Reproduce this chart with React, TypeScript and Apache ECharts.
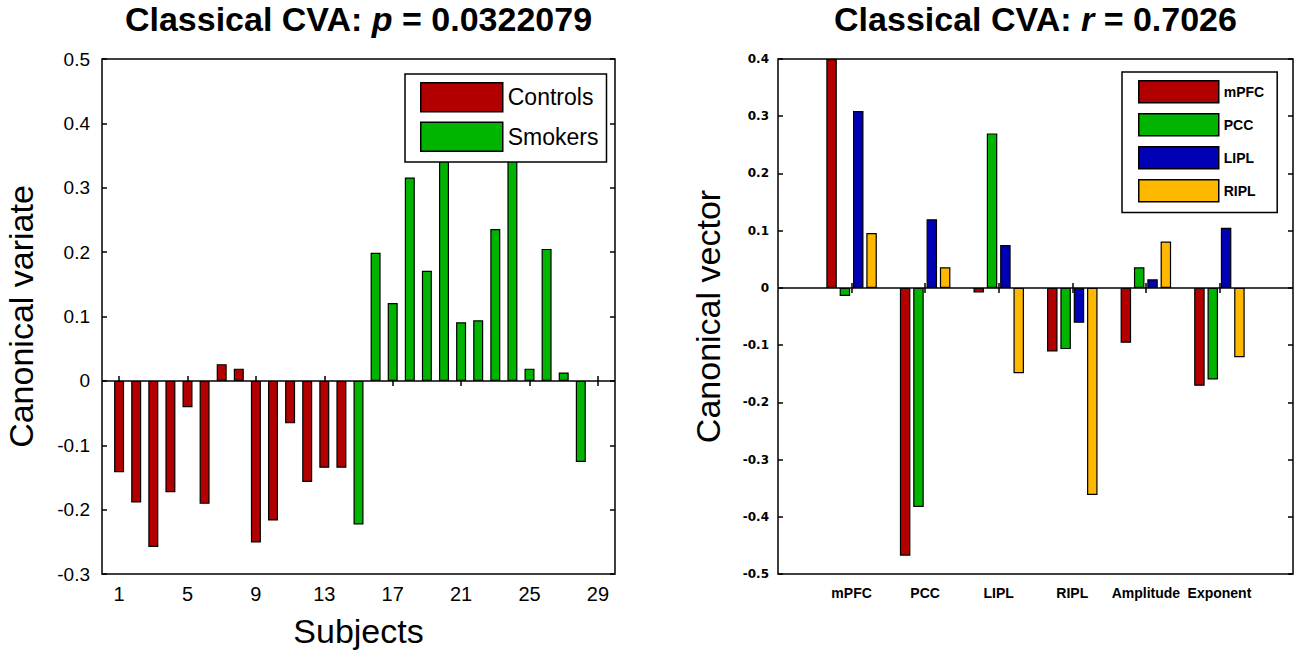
import React, { useEffect, useRef } from "react";
import * as echarts from "echarts";

// ---------- data ----------
const subjectAxis = ["0","1","2","3","4","5","6","7","8","9","10","11","12","13","14","15","16","17","18","19","20","21","22","23","24","25","26","27","28","29","30"];
const subjectTickLabels = [1, 5, 9, 13, 17, 21, 25, 29];
const controlSubjects = [1, 2, 3, 4, 5, 6, 7, 8, 9, 10, 11, 12, 13, 14];
const controls = [-0.142, -0.189, -0.258, -0.173, -0.041, -0.191, 0.026, 0.019, -0.251, -0.217, -0.066, -0.157, -0.135, -0.135];
const smokerSubjects = [15, 16, 17, 18, 19, 20, 21, 22, 23, 24, 25, 26, 27, 28];
const smokers = [-0.223, 0.199, 0.121, 0.316, 0.171, 0.37, 0.091, 0.094, 0.236, 0.38, 0.019, 0.205, 0.013, -0.126];

const regions = ["mPFC", "PCC", "LIPL", "RIPL", "Amplitude", "Exponent"];
const regionAxis = [" ", ...regions, "  "];
const mPFC = [0.4, -0.468, -0.008, -0.111, -0.096, -0.171];
const PCC = [-0.014, -0.383, 0.27, -0.107, 0.036, -0.16];
const LIPL = [0.309, 0.12, 0.075, -0.061, 0.015, 0.105];
const RIPL = [0.096, 0.036, -0.149, -0.362, 0.081, -0.121];

const leftTitle = { pre: "Classical CVA: ", sym: "p", post: " = 0.0322079" };
const rightTitle = { pre: "Classical CVA: ", sym: "r", post: " = 0.7026" };

// ---------- styles ----------
const FONT = "'Liberation Sans', Arial, Helvetica, sans-serif";
const RED = "#b20000";
const GREEN = "#00b400";
const BLUE = "#0000b4";
const YELLOW = "#ffb800";

const L = { left: 102, top: 59, width: 513, height: 515 };
const R = { left: 778, top: 59, width: 515, height: 515 };

function titleOpt(t: { pre: string; sym: string; post: string }, cx: number) {
  return {
    text: `{a|${t.pre}}{b|${t.sym}}{a|${t.post}}`,
    left: cx,
    top: 2,
    textAlign: "center",
    padding: 0,
    textStyle: {
      rich: {
        a: { fontFamily: FONT, fontSize: 34, fontWeight: "bold", color: "#000" },
        b: { fontFamily: FONT, fontSize: 34, fontWeight: "bold", fontStyle: "italic", color: "#000" },
      },
    },
  };
}

const zeroLine = {
  silent: true,
  symbol: ["none", "none"],
  label: { show: false },
  lineStyle: { color: "#000", width: 1.5, type: "solid" },
  data: [{ yAxis: 0 }],
};

const barBorder = { borderColor: "#000", borderWidth: 1.2 };

function buildOption() {
  const leftTickFn = (i: number) => subjectTickLabels.includes(i);
  const rightTickFn = (i: number) => i >= 1 && i <= regions.length;

  const regionSeries = [
    { name: "mPFC", vals: mPFC, color: RED },
    { name: "PCC", vals: PCC, color: GREEN },
    { name: "LIPL", vals: LIPL, color: BLUE },
    { name: "RIPL", vals: RIPL, color: YELLOW },
  ];

  return {
    animation: false,
    backgroundColor: "#fff",
    textStyle: { fontFamily: FONT, color: "#000" },
    title: [titleOpt(leftTitle, L.left + L.width / 2), titleOpt(rightTitle, R.left + R.width / 2)],
    grid: [
      { ...L, show: true, borderColor: "#000", borderWidth: 1.5, backgroundColor: "#fff", containLabel: false },
      { ...R, show: true, borderColor: "#000", borderWidth: 1.5, backgroundColor: "#fff", containLabel: false },
    ],
    legend: [
      {
        data: ["Controls", "Smokers"],
        orient: "vertical",
        left: 405,
        top: 74,
        padding: [8, 8, 10, 15],
        itemWidth: 82,
        itemHeight: 29,
        itemGap: 9,
        itemTextGap: 9,
        icon: "rect",
        selectedMode: false,
        backgroundColor: "#fff",
        borderColor: "#000",
        borderWidth: 1.5,
        itemStyle: { borderColor: "#000", borderWidth: 1.5 },
        textStyle: { fontFamily: FONT, fontSize: 23, color: "#000" },
      },
      {
        data: regions.slice(0, 4),
        orient: "vertical",
        left: 1122,
        top: 72,
        padding: [8, 13, 10, 16],
        itemWidth: 80,
        itemHeight: 22,
        itemGap: 9.5,
        itemTextGap: 9,
        icon: "rect",
        selectedMode: false,
        backgroundColor: "#fff",
        borderColor: "#000",
        borderWidth: 1.5,
        itemStyle: { borderColor: "#000", borderWidth: 1.5 },
        textStyle: { fontFamily: FONT, fontSize: 14, fontWeight: "bold", color: "#000" },
      },
    ],
    xAxis: [
      {
        type: "category",
        gridIndex: 0,
        data: subjectAxis,
        boundaryGap: false,
        axisLine: { show: false },
        axisTick: { show: true, inside: true, length: 5, interval: leftTickFn, lineStyle: { color: "#000", width: 1.5 } },
        axisLabel: { show: true, interval: leftTickFn, margin: 10, fontSize: 20, fontFamily: FONT, color: "#000" },
        splitLine: { show: false },
        name: "Subjects",
        nameLocation: "middle",
        nameGap: 40,
        nameTextStyle: { fontSize: 34, fontFamily: FONT, color: "#000" },
      },
      {
        type: "category",
        gridIndex: 0,
        position: "top",
        data: subjectAxis,
        boundaryGap: false,
        axisLine: { show: false },
        axisTick: { show: true, inside: true, length: 5, interval: leftTickFn, lineStyle: { color: "#000", width: 1.5 } },
        axisLabel: { show: false },
        splitLine: { show: false },
      },
      {
        type: "category",
        gridIndex: 1,
        data: regionAxis,
        boundaryGap: false,
        axisLine: { show: false },
        axisTick: { show: true, inside: true, length: 5, interval: rightTickFn, lineStyle: { color: "#000", width: 1.5 } },
        axisLabel: { show: true, interval: 0, margin: 12, fontSize: 14, fontWeight: "bold", fontFamily: FONT, color: "#000" },
        splitLine: { show: false },
      },
      {
        type: "category",
        gridIndex: 1,
        position: "top",
        data: regionAxis,
        boundaryGap: false,
        axisLine: { show: false },
        axisTick: { show: true, inside: true, length: 5, interval: rightTickFn, lineStyle: { color: "#000", width: 1.5 } },
        axisLabel: { show: false },
        splitLine: { show: false },
      },
    ],
    yAxis: [
      {
        type: "value",
        gridIndex: 0,
        min: -0.3,
        max: 0.5,
        interval: 0.1,
        axisLine: { show: false },
        axisTick: { show: true, inside: true, length: 5, lineStyle: { color: "#000", width: 1.5 } },
        axisLabel: { margin: 12, fontSize: 19, fontFamily: FONT, color: "#000" },
        splitLine: { show: false },
        name: "Canonical variate",
        nameLocation: "middle",
        nameRotate: 90,
        nameGap: 64,
        nameTextStyle: { fontSize: 34, fontFamily: FONT, color: "#000" },
      },
      {
        type: "value",
        gridIndex: 0,
        position: "right",
        min: -0.3,
        max: 0.5,
        interval: 0.1,
        axisLine: { show: false },
        axisTick: { show: true, inside: true, length: 5, lineStyle: { color: "#000", width: 1.5 } },
        axisLabel: { show: false },
        splitLine: { show: false },
      },
      {
        type: "value",
        gridIndex: 1,
        min: -0.5,
        max: 0.4,
        interval: 0.1,
        axisLine: { show: false },
        axisTick: { show: true, inside: true, length: 5, lineStyle: { color: "#000", width: 1.5 } },
        axisLabel: { margin: 9, fontSize: 12, fontWeight: "bold", fontFamily: "'DejaVu Sans', sans-serif", color: "#000" },
        splitLine: { show: false },
        name: "Canonical vector",
        nameLocation: "middle",
        nameRotate: 90,
        nameGap: 53,
        nameTextStyle: { fontSize: 34, fontFamily: FONT, color: "#000" },
      },
      {
        type: "value",
        gridIndex: 1,
        position: "right",
        min: -0.5,
        max: 0.4,
        interval: 0.1,
        axisLine: { show: false },
        axisTick: { show: true, inside: true, length: 5, lineStyle: { color: "#000", width: 1.5 } },
        axisLabel: { show: false },
        splitLine: { show: false },
      },
    ],
    series: [
      {
        name: "Controls",
        type: "bar",
        xAxisIndex: 0,
        yAxisIndex: 0,
        barWidth: 10,
        barGap: "-100%",
        itemStyle: { color: RED, ...barBorder },
        data: controlSubjects.map((s, k) => [s, controls[k]]),
        markLine: zeroLine,
      },
      {
        name: "Smokers",
        type: "bar",
        xAxisIndex: 0,
        yAxisIndex: 0,
        barWidth: 10,
        barGap: "-100%",
        itemStyle: { color: GREEN, ...barBorder },
        data: smokerSubjects.map((s, k) => [s, smokers[k]]),
      },
      ...regionSeries.map((rs, j) => ({
        name: rs.name,
        type: "bar",
        xAxisIndex: 2,
        yAxisIndex: 2,
        barWidth: 10.5,
        barGap: "27%",
        itemStyle: { color: rs.color, ...barBorder },
        data: rs.vals.map((v, i) => [i + 1, v]),
        ...(j === 0 ? { markLine: zeroLine } : {}),
      })),
    ],
  };
}

export default function App() {
  const ref = useRef<HTMLDivElement>(null);
  useEffect(() => {
    document.body.style.margin = "0";
    const chart = echarts.init(ref.current as HTMLDivElement, null, { renderer: "svg" });
    chart.setOption(buildOption() as any);
    return () => chart.dispose();
  }, []);
  return <div ref={ref} style={{ width: 1300, height: 663 }} />;
}
